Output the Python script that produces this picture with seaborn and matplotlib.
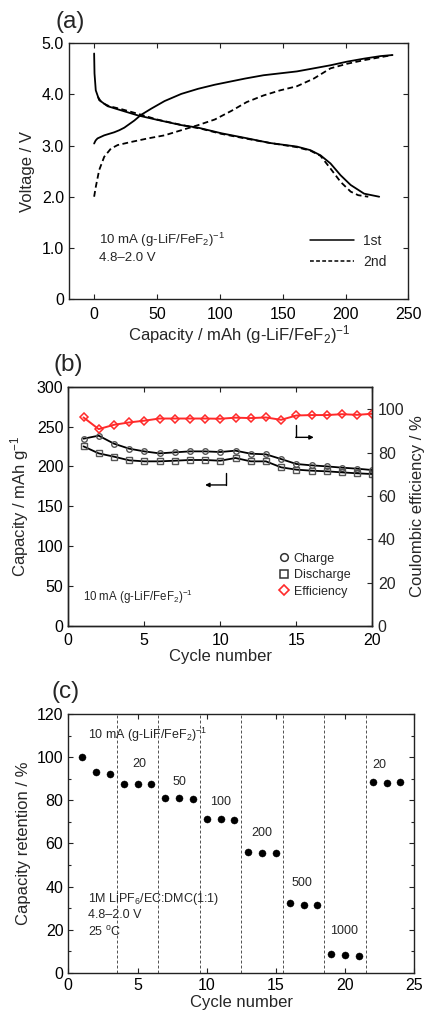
import numpy as np
import pandas as pd
import matplotlib
matplotlib.use("Agg")
import matplotlib.pyplot as plt
from matplotlib.lines import Line2D
from matplotlib.ticker import MultipleLocator
import seaborn as sns

# ---------------- data ----------------
# (a) charge/discharge curves
cap_chg1 = [0, 1.2, 2.7, 8, 16, 20, 24, 28, 32, 37.3, 45.3, 56, 69.3, 82.7, 96, 108, 120, 134.7, 161.3, 174.7, 188, 201, 214.7, 228, 237.3]
v_chg1 = [3.04, 3.10, 3.14, 3.20, 3.26, 3.30, 3.35, 3.42, 3.49, 3.60, 3.72, 3.87, 4.01, 4.11, 4.19, 4.25, 4.31, 4.375, 4.45, 4.51, 4.57, 4.64, 4.70, 4.75, 4.77]

cap_dis1 = [0, 0.3, 1.3, 4, 10.7, 21.3, 34.7, 50.7, 69.3, 82.7, 101.3, 120, 140, 161.3, 172, 180, 188, 196, 204, 214.7, 226.7]
v_dis1 = [4.80, 4.41, 4.08, 3.89, 3.77, 3.69, 3.59, 3.50, 3.40, 3.35, 3.24, 3.15, 3.05, 2.98, 2.91, 2.81, 2.65, 2.42, 2.23, 2.06, 2.00]

cap_chg2 = [0, 1.3, 4, 8, 13.3, 18.7, 29.3, 42.7, 56, 69.3, 82.7, 96, 109.3, 121.3, 134.7, 148, 161.3, 174.7, 188, 201.3, 214.7, 237.3]
v_chg2 = [2.00, 2.19, 2.52, 2.78, 2.94, 3.01, 3.07, 3.14, 3.20, 3.30, 3.40, 3.51, 3.68, 3.85, 3.98, 4.08, 4.16, 4.31, 4.51, 4.60, 4.67, 4.77]

cap_dis2 = [3, 6, 12, 22, 35, 50, 70, 85, 101, 120, 140, 161, 172, 180, 188, 196, 204, 210, 218]
v_dis2 = [3.95, 3.84, 3.77, 3.71, 3.62, 3.51, 3.40, 3.33, 3.23, 3.14, 3.05, 2.97, 2.90, 2.80, 2.55, 2.29, 2.10, 2.03, 2.00]

# (b) cycling
cycles_b = list(range(1, 21))
charge_b = [234.8, 238.6, 228.6, 222.3, 218.9, 216.4, 217.7, 218.9, 218.9, 218.1,
            219.8, 216.0, 215.2, 209.3, 203.1, 201.4, 200.1, 198.5, 197.2, 195.5]
discharge_b = [225.2, 216.4, 212.3, 207.7, 206.4, 206.4, 207.2, 208.1, 208.1, 207.2,
               210.6, 206.4, 206.4, 198.9, 196.0, 194.7, 193.9, 192.6, 191.4, 190.5]
efficiency_b = [96.3, 90.9, 92.9, 94.0, 94.8, 95.8, 95.8, 95.8, 95.8, 95.7,
                96.2, 96.0, 96.3, 95.2, 97.2, 97.4, 97.4, 97.8, 97.5, 98.0]

# (c) rate capability
cycles_c = list(range(1, 25))
retention_c = [100, 93.1, 92.1, 87.5, 87.7, 87.5, 81.3, 81.3, 80.7, 71.2, 71.4, 70.9,
               55.9, 55.7, 55.4, 32.2, 31.4, 31.3, 8.7, 8.4, 7.7, 88.4, 88.0, 88.4]
rate_boundaries = [3.5, 6.5, 9.5, 12.5, 15.5, 18.5, 21.5]
rate_labels = ["20", "50", "100", "200", "500", "1000", "20"]
rate_label_x = [5.1, 8.05, 11.0, 14.0, 16.9, 19.9, 22.5]
rate_label_y = [96.8, 88.7, 79.4, 64.7, 41.8, 19.5, 96.5]

# tick labels
a_xticks = [0, 50, 100, 150, 200, 250]
a_yticks = [0, 1, 2, 3, 4, 5]
a_yticklabels = ["0", "1.0", "2.0", "3.0", "4.0", "5.0"]
b_xticks = [0, 5, 10, 15, 20]
b_yticks = [0, 50, 100, 150, 200, 250, 300]
b_y2ticks = [0, 20, 40, 60, 80, 100]
c_xticks = [0, 5, 10, 15, 20, 25]
c_yticks = [0, 20, 40, 60, 80, 100, 120]

# ---------------- style ----------------
sns.set_theme(style="ticks")
plt.rcParams["font.family"] = ["Liberation Sans", "DejaVu Sans"]
plt.rcParams["mathtext.fontset"] = "custom"
plt.rcParams["mathtext.rm"] = "Liberation Sans"
plt.rcParams["mathtext.it"] = "Liberation Sans:italic"
plt.rcParams["mathtext.bf"] = "Liberation Sans:bold"
plt.rcParams["axes.linewidth"] = 1.0
plt.rcParams["axes.edgecolor"] = "#222222"

TICK = 11.5
LAB = 12
ANN = 9

fig = plt.figure(figsize=(4.24, 10.23), dpi=100)
axA = fig.add_axes([0.1627, 0.7077, 0.8007, 0.2500])
axB = fig.add_axes([0.1611, 0.3881, 0.7170, 0.2339])
axC = fig.add_axes([0.1611, 0.0492, 0.8160, 0.2526])


def style_ticks(ax, right=True, xpad=4):
    ax.tick_params(direction="in", top=True, right=right, length=3.5, width=0.8,
                   labelsize=TICK, colors="#222222", labelcolor="black", pad=3.5)
    ax.tick_params(axis="x", pad=xpad)
    ax.tick_params(which="minor", direction="in", top=True, right=right, length=2.5, width=0.8)


# ---------------- (a) ----------------
dash = (0, (3.2, 1.9))
sns.lineplot(x=cap_chg1, y=v_chg1, sort=False, estimator=None, color="black", lw=1.3, ax=axA)
sns.lineplot(x=cap_dis1, y=v_dis1, sort=False, estimator=None, color="black", lw=1.3, ax=axA)
sns.lineplot(x=cap_chg2, y=v_chg2, sort=False, estimator=None, color="black", lw=1.3, linestyle=dash, ax=axA)
sns.lineplot(x=cap_dis2, y=v_dis2, sort=False, estimator=None, color="black", lw=1.3, linestyle=dash, ax=axA)
axA.set_xlim(-20, 250)
axA.set_ylim(0, 5)
axA.set_xticks(a_xticks)
axA.set_yticks(a_yticks)
axA.set_yticklabels(a_yticklabels)
style_ticks(axA, xpad=5.5)
axA.set_xlabel("Capacity / mAh (g-LiF/FeF$_2$)$^{-1}$", fontsize=LAB, labelpad=1)
axA.set_ylabel("Voltage / V", fontsize=LAB, labelpad=5)
axA.text(4, 1.15, "10 mA (g-LiF/FeF$_2$)$^{-1}$", fontsize=9.5, va="center", ha="left")
axA.text(4, 0.81, "4.8\u20132.0 V", fontsize=9.5, va="center", ha="left")
hA = [Line2D([], [], color="black", lw=1.1),
      Line2D([], [], color="black", lw=1.1, linestyle=(0, (2.5, 1.5)))]
axA.legend(hA, ["1st", "2nd"], loc="center left", bbox_to_anchor=(0.689, 0.187),
           frameon=False, fontsize=10, handlelength=3.2, handletextpad=0.65,
           borderpad=0, labelspacing=0.5)
axA.text(-0.04, 1.04, "(a)", transform=axA.transAxes, fontsize=17.5, ha="left", va="bottom")

# ---------------- (b) ----------------
sns.lineplot(x=cycles_b, y=charge_b, color="black", lw=1.3, marker="o", markersize=4,
             markerfacecolor="none", markeredgecolor="#555555", markeredgewidth=1.0, ax=axB)
sns.lineplot(x=cycles_b, y=discharge_b, color="black", lw=1.3, marker="s", markersize=4.2,
             markerfacecolor="none", markeredgecolor="#555555", markeredgewidth=1.0, ax=axB)
axB.set_xlim(0, 20)
axB.set_ylim(0, 300)
axB.set_xticks(b_xticks)
axB.set_yticks(b_yticks)
style_ticks(axB, right=False, xpad=5)
axB.set_xlabel("Cycle number", fontsize=LAB, labelpad=1)
axB.set_ylabel("Capacity / mAh g$^{-1}$", fontsize=LAB, labelpad=4)

axB2 = axB.twinx()
sns.lineplot(x=cycles_b, y=efficiency_b, color="#ff2a2a", lw=1.4, marker="D", markersize=4.2,
             markerfacecolor="none", markeredgecolor="#ff2a2a", markeredgewidth=1.1, ax=axB2)
axB2.set_ylim(0, 110.5)
axB2.set_yticks(b_y2ticks)
axB2.tick_params(direction="in", length=3.5, width=0.8, labelsize=TICK, pad=4)
axB2.set_ylabel("Coulombic efficiency / %", fontsize=LAB, labelpad=4)
for s in axB2.spines.values():
    s.set_linewidth(1.0)

# arrows
axB.plot([14.96, 14.96], [252, 236.5], color="black", lw=1.0)
axB.annotate("", xy=(16.15, 236.5), xytext=(14.96, 236.5),
             arrowprops=dict(arrowstyle="-|>", color="black", lw=1.0, mutation_scale=6, shrinkA=0, shrinkB=0))
axB.plot([10.37, 10.37], [192.2, 176.8], color="black", lw=1.0)
axB.annotate("", xy=(9.0, 176.8), xytext=(10.37, 176.8),
             arrowprops=dict(arrowstyle="-|>", color="black", lw=1.0, mutation_scale=6, shrinkA=0, shrinkB=0))

hB = [Line2D([], [], ls="none", marker="o", markersize=5.5, mfc="none", mec="#333333", mew=1.1),
      Line2D([], [], ls="none", marker="s", markersize=5.5, mfc="none", mec="#333333", mew=1.1),
      Line2D([], [], ls="none", marker="D", markersize=5, mfc="none", mec="#ff2a2a", mew=1.2)]
axB2.legend(hB, ["Charge", "Discharge", "Efficiency"], loc="center left",
            bbox_to_anchor=(0.672, 0.212), frameon=False, fontsize=ANN,
            handlelength=0.8, handletextpad=0.4, borderpad=0, labelspacing=0.36)
axB.text(0.048, 0.121, "10 mA (g-LiF/FeF$_2$)$^{-1}$", transform=axB.transAxes,
         fontsize=8.3, va="center", ha="left")
axB.text(-0.05, 1.045, "(b)", transform=axB.transAxes, fontsize=17.5, ha="left", va="bottom")

# ---------------- (c) ----------------
for xb in rate_boundaries:
    axC.axvline(xb, color="#333333", lw=0.6, linestyle=(0, (3.5, 2.5)))
sns.scatterplot(x=cycles_c, y=retention_c, color="black", s=26, edgecolor="black", linewidth=0.3,
                ax=axC, zorder=3)
axC.set_xlim(0, 25)
axC.set_ylim(0, 120)
axC.set_xticks(c_xticks)
axC.set_yticks(c_yticks)
axC.yaxis.set_minor_locator(MultipleLocator(10))
style_ticks(axC, xpad=4)
axC.set_xlabel("Cycle number", fontsize=LAB, labelpad=1)
axC.set_ylabel("Capacity retention / %", fontsize=LAB, labelpad=4)
for t, xx, yy in zip(rate_labels, rate_label_x, rate_label_y):
    axC.text(xx, yy, t, fontsize=ANN, ha="center", va="center")
axC.text(1.45, 110.4, "10 mA (g-LiF/FeF$_2$)$^{-1}$", fontsize=ANN, ha="left", va="center")
axC.text(1.45, 26.9, "1M LiPF$_6$/EC:DMC(1:1)\n4.8\u20132.0 V\n25 $^{\\mathrm{o}}$C",
         fontsize=ANN, ha="left", va="center", linespacing=1.3)
axC.text(-0.05, 1.045, "(c)", transform=axC.transAxes, fontsize=17.5, ha="left", va="bottom")

fig.savefig("out.png", dpi=100)
